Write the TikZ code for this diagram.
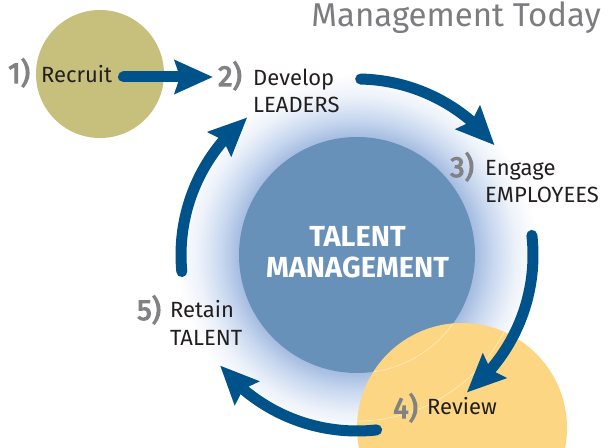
\documentclass[tikz,border=0pt]{standalone}
\usepackage{fontspec}
\setmainfont{Fira Sans}
\newfontfamily\semibold[FakeBold=4]{Fira Sans}
\usetikzlibrary{arrows.meta,bending}
\definecolor{olivefill}{RGB}{198,192,124}
\definecolor{yellowfill}{RGB}{252,214,130}
\definecolor{coreblue}{RGB}{104,145,186}
\definecolor{flowblue}{RGB}{0,83,138}
\definecolor{numgray}{RGB}{130,130,133}
\definecolor{titlegray}{RGB}{125,125,128}
\definecolor{textdark}{RGB}{35,31,32}
\pgfdeclareradialshading{halo}{\pgfpoint{0bp}{0bp}}{%
  rgb(0bp)=(0.65,0.74,0.88);
  rgb(16bp)=(0.65,0.74,0.88);
  rgb(18.5bp)=(0.79,0.85,0.94);
  rgb(21.5bp)=(0.93,0.95,0.98);
  rgb(24.5bp)=(1,1,1);
  rgb(50bp)=(1,1,1)}
\tikzset{
  flow/.style={line width=11pt, draw=flowblue, line cap=round,
    -{Stealth[length=38pt,width=33pt,inset=5pt,flex]}},
  num/.style={inner sep=0pt, anchor=base west, text=numgray,
    font=\semibold\fontsize{29}{29}\selectfont},
  label/.style={inner sep=0pt, anchor=base west, text=textdark, align=left,
    font=\fontsize{22}{27.5}\selectfont},
}
\begin{document}
\begin{tikzpicture}[x=1pt,y=1pt]
\useasboundingbox (0,0) rectangle (615,447);
\clip (0,0) rectangle (615,447);
\fill[white] (0,0) rectangle (615,447);
% halo and circles
\coordinate (c) at (357,192);
\shade[shading=halo] (c) circle[radius=185];
\node[circle, fill=olivefill, minimum size=128pt, inner sep=0pt] (recruitdisc) at (100,373) {};
\node[circle, fill=coreblue, minimum size=236pt, inner sep=0pt] (core) at (c) {};
\node[circle, fill=yellowfill, minimum size=210pt, inner sep=0pt] (reviewdisc) at (462,19) {};
\begin{scope}
  \clip (reviewdisc.center) circle[radius=105];
  \draw[white, line width=0.5pt, opacity=0.6] (c) circle[radius=118];
  \draw[white, line width=0.5pt, opacity=0.6] (c) circle[radius=166];
\end{scope}
% texts
\node[inner sep=0pt, anchor=base east, text=titlegray, font=\fontsize{33}{33}\selectfont] (title) at (601,420) {Management Today};
\node[num] (n1) at (8,364) {1)};
\node[label] (recruit) at (41,364) {Recruit};
\node[num] (n2) at (218,361) {2)};
\node[label] (develop) at (253,334) {Develop\\LEADERS};
\node[num] (n3) at (450,270) {3)};
\node[label] (engage) at (485,244) {Engage\\EMPLOYEES};
\node[num] (n4) at (393,29) {4)};
\node[label] (review) at (427,33) {Review};
\node[num] (n5) at (137,127) {5)};
\node[label] (retain) at (170,102) {Retain\\TALENT};
\node[inner sep=0pt, anchor=base, text=white, align=center,
  font=\bfseries\fontsize{29}{31}\selectfont] (talent) at (357.5,169) {TALENT\\MANAGEMENT};
% arrows
\coordinate (a1s) at (123.5,370);
\coordinate (a1e) at (213,370);
\draw[flow] (a1s) -- (a1e);
\path (c) ++(88.8:176) coordinate (a2s);
\path (c) ++(6.4:176) coordinate (a3s);
\path (c) ++(-83.6:176) coordinate (a4s);
\path (c) ++(185.4:176) coordinate (a5s);
\draw[flow] (a2s) arc[start angle=88.8, end angle=38.6, radius=176];
\draw[flow] (a3s) arc[start angle=6.4, end angle=-51.4, radius=176];
\draw[flow] (a4s) arc[start angle=-83.6, end angle=-141.1, radius=176];
\draw[flow] (a5s) arc[start angle=185.4, end angle=128.6, radius=176];
\end{tikzpicture}
\end{document}
